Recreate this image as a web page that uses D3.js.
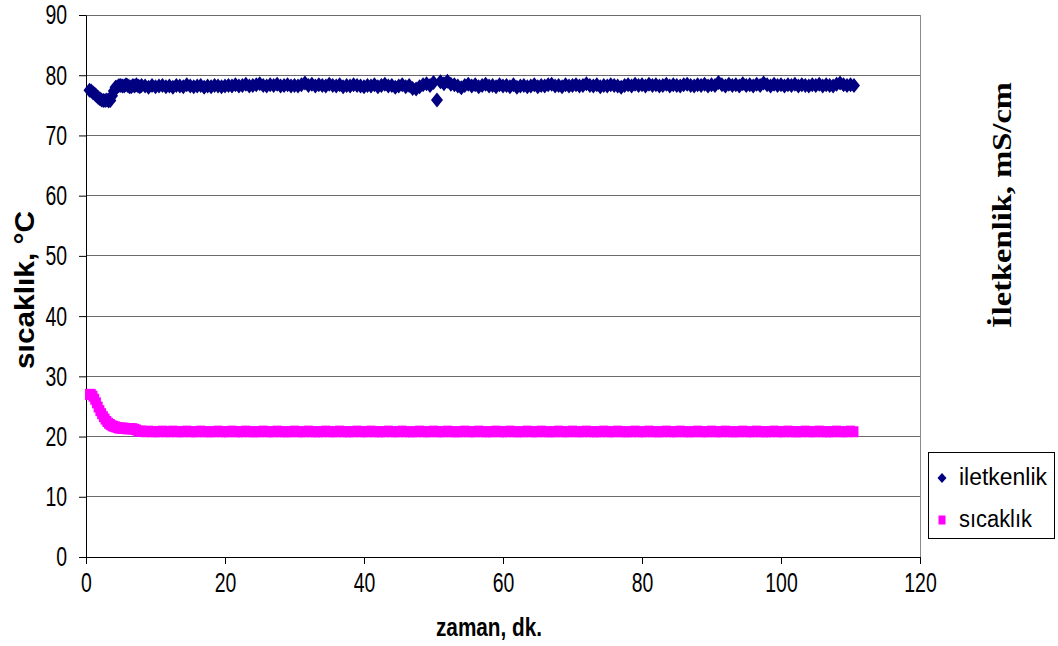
<!DOCTYPE html>
<html>
<head>
<meta charset="utf-8">
<script src="https://cdn.jsdelivr.net/npm/d3@7"></script>
<style>
  body { margin: 0; background: #fff; }
  text { font-family: "Liberation Sans", Arial, sans-serif; fill: #000; }
</style>
</head>
<body>
<div id="chart"></div>
<script>
// zaman, dk.
const time = [
  0.5, 0.75, 1, 1.25, 1.5, 1.75, 2, 2.25, 2.5, 2.75, 3, 3.25, 3.5, 3.75, 4, 4.25,
  4.5, 4.75, 5, 5.25, 5.5, 5.75, 6, 6.25, 6.5, 6.75, 7, 7.25, 7.5, 7.75, 8,
  8.5, 9, 9.5, 10,
  10.5, 11, 11.5, 12, 12.5, 13, 13.5, 14, 14.5, 15, 15.5, 16, 16.5, 17, 17.5, 18, 18.5, 19, 19.5, 20,
  20.5, 21, 21.5, 22, 22.5, 23, 23.5, 24, 24.5, 25, 25.5, 26, 26.5, 27, 27.5, 28, 28.5, 29, 29.5, 30,
  30.5, 31, 31.5, 32, 32.5, 33, 33.5, 34, 34.5, 35, 35.5, 36, 36.5, 37, 37.5, 38, 38.5, 39, 39.5, 40,
  40.5, 41, 41.5, 42, 42.5, 43, 43.5, 44, 44.5, 45, 45.5, 46, 46.5, 47, 47.5, 48, 48.5, 49, 49.5, 50,
  50.5, 51, 51.5, 52, 52.5, 53, 53.5, 54, 54.5, 55, 55.5, 56, 56.5, 57, 57.5, 58, 58.5, 59, 59.5, 60,
  60.5, 61, 61.5, 62, 62.5, 63, 63.5, 64, 64.5, 65, 65.5, 66, 66.5, 67, 67.5, 68, 68.5, 69, 69.5, 70,
  70.5, 71, 71.5, 72, 72.5, 73, 73.5, 74, 74.5, 75, 75.5, 76, 76.5, 77, 77.5, 78, 78.5, 79, 79.5, 80,
  80.5, 81, 81.5, 82, 82.5, 83, 83.5, 84, 84.5, 85, 85.5, 86, 86.5, 87, 87.5, 88, 88.5, 89, 89.5, 90,
  90.5, 91, 91.5, 92, 92.5, 93, 93.5, 94, 94.5, 95, 95.5, 96, 96.5, 97, 97.5, 98, 98.5, 99, 99.5, 100,
  100.5, 101, 101.5, 102, 102.5, 103, 103.5, 104, 104.5, 105, 105.5, 106, 106.5, 107, 107.5, 108, 108.5, 109, 109.5, 110, 110.5
];

// iletkenlik, mS/cm
const iletkenlik = [
  77.5, 77.4, 77.1, 76.9, 76.6, 76.3, 76.1, 75.9, 75.8, 75.8, 75.9, 75.7, 75.8, 76.6, 77.4, 78.0,
  78.1, 78.3, 78.3, 78.2, 78.2, 78.4, 78.3, 78.1, 78.1, 78.3, 78.2, 78.4, 78.2, 78.1, 78.3,
  78.2, 78.0, 78.3, 78.1,
  78.2, 78.3, 78.1, 78.2, 78.0, 78.3, 78.2, 78.1, 78.4, 78.2, 78.1, 78.2, 78.3, 78.0, 78.2, 78.1, 78.3, 78.2, 78.1, 78.2,
  78.3, 78.2, 78.4, 78.2, 78.3, 78.5, 78.2, 78.3, 78.4, 78.6, 78.3, 78.2, 78.4, 78.3, 78.5, 78.2, 78.3, 78.4, 78.2, 78.3,
  78.2, 78.4, 78.7, 78.3, 78.5, 78.2, 78.4, 78.3, 78.2, 78.5, 78.3, 78.2, 78.4, 78.1, 78.3, 78.2, 78.4, 78.3, 78.2, 78.1,
  78.3, 78.2, 78.4, 78.1, 78.3, 78.5, 78.2, 78.3, 78.0, 78.2, 78.4, 78.1, 78.3, 77.8, 77.7, 78.1, 78.4, 78.6, 78.3, 78.8,
  75.9, 78.9, 78.6, 79.0, 78.5, 78.4, 78.2, 77.9, 78.3, 78.5, 78.2, 78.4, 78.1, 78.3, 78.5, 78.2, 78.3, 78.1, 78.4, 78.2,
  78.3, 78.1, 78.4, 78.0, 78.2, 78.3, 78.1, 78.2, 78.4, 78.1, 78.3, 78.2, 78.4, 78.5, 78.2, 78.3, 78.1, 78.4, 78.2, 78.3,
  78.4, 78.2, 78.3, 78.6, 78.3, 78.2, 78.4, 78.1, 78.3, 78.2, 78.4, 78.3, 78.2, 78.0, 78.3, 78.4, 78.2, 78.5, 78.3, 78.4,
  78.2, 78.5, 78.3, 78.4, 78.2, 78.3, 78.5, 78.2, 78.4, 78.3, 78.2, 78.4, 78.5, 78.3, 78.2, 78.4, 78.3, 78.5, 78.2, 78.4,
  78.3, 78.8, 78.4, 78.2, 78.5, 78.3, 78.4, 78.2, 78.6, 78.3, 78.4, 78.2, 78.5, 78.3, 78.7, 78.4, 78.2, 78.5, 78.3, 78.4,
  78.2, 78.4, 78.3, 78.5, 78.2, 78.4, 78.3, 78.2, 78.4, 78.3, 78.5, 78.2, 78.4, 78.3, 78.2, 78.5, 78.7, 78.4, 78.3, 78.4, 78.3
];

// sıcaklık, °C
const sicaklik = [
  27.0, 27.0, 26.7, 26.2, 25.6, 24.9, 24.3, 23.8, 23.3, 22.9, 22.5, 22.2, 22.0, 21.8, 21.7, 21.6,
  21.5, 21.4, 21.4, 21.4, 21.4, 21.3, 21.3, 21.3, 21.3, 21.3, 21.2, 21.1, 20.9, 20.9, 20.9,
  20.8, 20.9, 20.8, 20.8,
  20.8, 20.9, 20.8, 20.8, 20.9, 20.8, 20.8, 20.8, 20.9, 20.8, 20.8, 20.8, 20.9, 20.8, 20.8, 20.8, 20.8, 20.9, 20.8, 20.8,
  20.8, 20.9, 20.8, 20.8, 20.8, 20.9, 20.8, 20.8, 20.8, 20.8, 20.9, 20.8, 20.8, 20.8, 20.9, 20.8, 20.8, 20.8, 20.8, 20.9,
  20.8, 20.8, 20.8, 20.9, 20.8, 20.8, 20.8, 20.8, 20.9, 20.8, 20.8, 20.8, 20.9, 20.8, 20.8, 20.8, 20.8, 20.9, 20.8, 20.8,
  20.8, 20.9, 20.8, 20.8, 20.8, 20.8, 20.9, 20.8, 20.8, 20.8, 20.9, 20.8, 20.8, 20.8, 20.8, 20.9, 20.8, 20.8, 20.8, 20.9,
  20.8, 20.8, 20.8, 20.9, 20.8, 20.8, 20.8, 20.8, 20.9, 20.8, 20.8, 20.8, 20.9, 20.8, 20.8, 20.8, 20.8, 20.9, 20.8, 20.8,
  20.8, 20.9, 20.8, 20.8, 20.8, 20.8, 20.9, 20.8, 20.8, 20.8, 20.9, 20.8, 20.8, 20.8, 20.8, 20.9, 20.8, 20.8, 20.8, 20.9,
  20.8, 20.8, 20.8, 20.9, 20.8, 20.8, 20.8, 20.8, 20.9, 20.8, 20.8, 20.8, 20.9, 20.8, 20.8, 20.8, 20.8, 20.9, 20.8, 20.8,
  20.8, 20.9, 20.8, 20.8, 20.8, 20.8, 20.9, 20.8, 20.8, 20.8, 20.9, 20.8, 20.8, 20.8, 20.8, 20.9, 20.8, 20.8, 20.8, 20.9,
  20.8, 20.8, 20.8, 20.9, 20.8, 20.8, 20.8, 20.8, 20.9, 20.8, 20.8, 20.8, 20.9, 20.8, 20.8, 20.8, 20.8, 20.9, 20.8, 20.8,
  20.8, 20.9, 20.8, 20.8, 20.8, 20.8, 20.9, 20.8, 20.8, 20.8, 20.9, 20.8, 20.8, 20.8, 20.8, 20.9, 20.8, 20.8, 20.8, 20.9, 20.8
];

const xTicks = [0, 20, 40, 60, 80, 100, 120];
const yTicks = [0, 10, 20, 30, 40, 50, 60, 70, 80, 90];
const seriesNames = ["iletkenlik", "sıcaklık"];
const seriesColors = ["#000080", "#ff00ff"];

const width = 1058, height = 646;
const margin = {top: 15, right: 138, bottom: 89, left: 86};
const innerW = width - margin.left - margin.right;
const innerH = height - margin.top - margin.bottom;

const svg = d3.select("#chart").append("svg")
  .attr("width", width)
  .attr("height", height);

const g = svg.append("g")
  .attr("transform", `translate(${margin.left},${margin.top})`);

const x = d3.scaleLinear().domain([0, 120]).range([0, innerW]);
const y = d3.scaleLinear().domain([0, 90]).range([innerH, 0]);

// gridlines
g.append("g").selectAll("line")
  .data(yTicks.filter(d => d > 0))
  .enter().append("line")
  .attr("x1", 0).attr("x2", innerW)
  .attr("y1", d => y(d)).attr("y2", d => y(d))
  .attr("stroke", "#6a6a6a")
  .attr("shape-rendering", "crispEdges");

// right border
g.append("line")
  .attr("x1", innerW).attr("x2", innerW)
  .attr("y1", 0).attr("y2", innerH)
  .attr("stroke", "#8a8a8a")
  .attr("shape-rendering", "crispEdges");

// axes
const digitW = 10.8;
function styleTicks(sel) {
  sel.select(".domain").attr("stroke", "#000");
  sel.selectAll(".tick line").attr("stroke", "#000");
  sel.selectAll(".tick text")
    .attr("font-size", 28)
    .attr("font-family", "'Liberation Sans', Arial, sans-serif")
    .attr("fill", "#000")
    .attr("textLength", function() { return this.textContent.length * digitW; })
    .attr("lengthAdjust", "spacingAndGlyphs");
}

g.append("g")
  .attr("transform", `translate(0,${innerH})`)
  .call(d3.axisBottom(x).tickValues(xTicks).tickSize(7).tickPadding(8).tickSizeOuter(0))
  .call(styleTicks);

g.append("g")
  .call(d3.axisLeft(y).tickValues(yTicks).tickSize(7).tickPadding(12).tickSizeOuter(0))
  .call(styleTicks);

// markers
const diamond = "M0,-7.5L6,0L0,7.5L-6,0Z";

g.append("g").selectAll("path")
  .data(time.map((t, i) => [t, iletkenlik[i]]))
  .enter().append("path")
  .attr("d", diamond)
  .attr("transform", d => `translate(${x(d[0])},${y(d[1])})`)
  .attr("fill", seriesColors[0]);

g.append("g").selectAll("rect")
  .data(time.map((t, i) => [t, sicaklik[i]]))
  .enter().append("rect")
  .attr("x", d => x(d[0]) - 4.5)
  .attr("y", d => y(d[1]) - 5.5)
  .attr("width", 9)
  .attr("height", 11)
  .attr("fill", seriesColors[1]);

// axis titles
svg.append("text")
  .attr("x", 489).attr("y", 636)
  .attr("text-anchor", "middle")
  .attr("font-size", 26).attr("font-weight", "bold")
  .attr("textLength", 106).attr("lengthAdjust", "spacingAndGlyphs")
  .text("zaman, dk.");

svg.append("text")
  .attr("transform", "translate(34,290) rotate(-90)")
  .attr("text-anchor", "middle")
  .attr("font-size", 27).attr("font-weight", "bold")
  .attr("textLength", 158).attr("lengthAdjust", "spacingAndGlyphs")
  .text("sıcaklık, °C");

svg.append("text")
  .attr("transform", "translate(1011,205) rotate(-90)")
  .attr("text-anchor", "middle")
  .attr("font-size", 27).attr("font-weight", "bold")
  .style("font-family", "'Liberation Serif', 'Times New Roman', serif")
  .attr("textLength", 246).attr("lengthAdjust", "spacingAndGlyphs")
  .text("İletkenlik, mS/cm");

// legend
const legend = svg.append("g");
legend.append("rect")
  .attr("x", 928.5).attr("y", 452.5)
  .attr("width", 126).attr("height", 86)
  .attr("fill", "#fff").attr("stroke", "#000");

const legendRows = [478, 520];
const legendLens = [88, 73];
legend.append("path")
  .attr("d", "M0,-5L4.5,0L0,5L-4.5,0Z")
  .attr("transform", `translate(942,${legendRows[0]})`)
  .attr("fill", seriesColors[0]);
legend.append("rect")
  .attr("x", 938.5).attr("y", legendRows[1] - 4.5)
  .attr("width", 7).attr("height", 9)
  .attr("fill", seriesColors[1]);

legend.selectAll("text.lbl")
  .data(seriesNames)
  .enter().append("text")
  .attr("class", "lbl")
  .attr("x", 959)
  .attr("y", (d, i) => legendRows[i] + 7)
  .attr("font-size", 23)
  .attr("textLength", (d, i) => legendLens[i])
  .attr("lengthAdjust", "spacingAndGlyphs")
  .text(d => d);
</script>
</body>
</html>
